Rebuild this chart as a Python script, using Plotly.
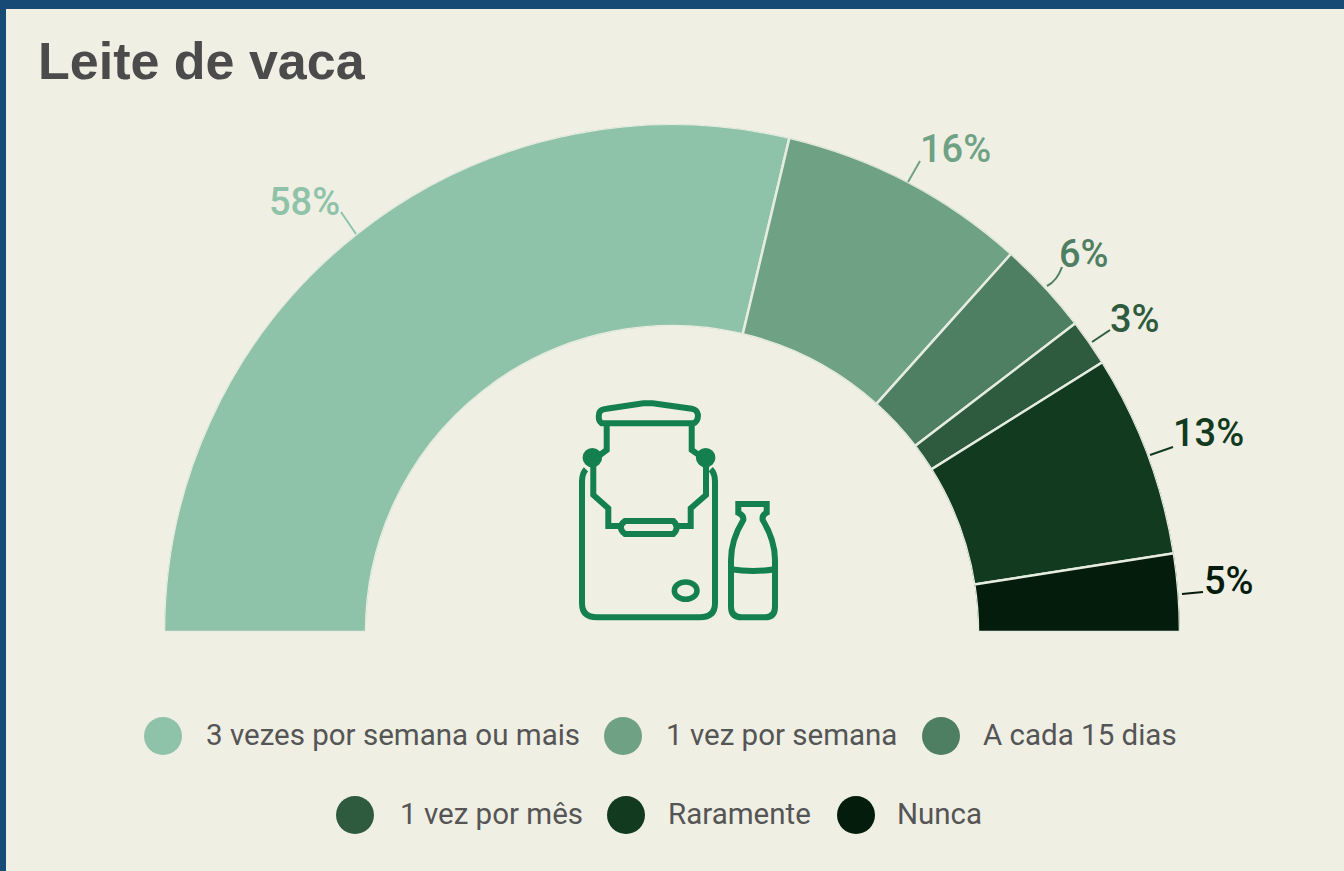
import plotly.graph_objects as go

title = "Leite de vaca"
categories = ["3 vezes por semana ou mais", "1 vez por semana", "A cada 15 dias",
              "1 vez por mês", "Raramente", "Nunca"]
values = [58, 16, 6, 3, 13, 5]
colors = ["#8fc3a9", "#6fa284", "#4f7f62", "#2e5b3e", "#113a1e", "#041c0b"]

W, H = 1344, 871
CX, BASE, R = 672, 632, 508
HOLE = 306 / 508
FONT = "Roboto"

total = sum(values)
theta, width, cum = [], [], 0
for v in values:
    theta.append((cum + v / 2) * 180 / total)
    width.append(v * 180 / total)
    cum += v

fig = go.Figure()

legend_x = [163, 623, 941, 355, 626, 856]
legend_y = [736, 736, 736, 815, 815, 815]
legend_text_x = [204, 664, 981, 398, 666, 895]
fig.add_trace(go.Scatter(
    x=legend_x, y=legend_y, mode="markers",
    marker=dict(size=38, color=colors, line=dict(width=0)),
    hoverinfo="skip", showlegend=False))

fig.add_trace(go.Barpolar(
    r=[1] * len(values), theta=theta, width=width, text=categories,
    marker=dict(color=colors, line=dict(color="#e6ece0", width=2.5)),
    hoverinfo="text", showlegend=False))

annotations = [dict(x=36, y=61, xref="x", yref="y", text=f"<b>{title}</b>", showarrow=False,
                    xanchor="left", yanchor="middle",
                    font=dict(family="Liberation Sans", size=52, color="#4b4b4b"))]

label_pos = [(304, 202), (955, 149), (1084, 254), (1135, 319), (1208, 433), (1229, 581)]
for v, c, (lx, ly) in zip(values, colors, label_pos):
    annotations.append(dict(x=lx, y=ly, xref="x", yref="y", text=f"{v}%", showarrow=False,
                            xanchor="center", yanchor="middle",
                            font=dict(family=FONT, size=38, color=c, weight=500)))
for name, tx, ty in zip(categories, legend_text_x, legend_y):
    annotations.append(dict(x=tx, y=ty - 1, xref="x", yref="y", text=name, showarrow=False,
                            xanchor="left", yanchor="middle",
                            font=dict(family=FONT, size=29.5, color="#555555")))

shapes = [dict(type="rect", xref="x", yref="y", x0=6, x1=W + 5, y0=9, y1=H + 5,
               fillcolor="#efefe4", line=dict(width=0), layer="below")]

leaders = [("M341,212 L356,234", 0), ("M920,161 L908,182", 1),
           ("M1062,267 Q1057,281 1047,286", 2), ("M1110,330 L1092,342", 3),
           ("M1173,447 L1150,455", 4), ("M1203,592 L1182,594", 5)]
for p, i in leaders:
    shapes.append(dict(type="path", xref="x", yref="y", path=p,
                       line=dict(color=colors[i], width=2), layer="above"))

ICON = "#14804f"
def ic(x, y):
    return f"{560 + x / 3:.1f},{390 + y / 3:.1f}"
def path(*parts):
    out = []
    for p in parts:
        if p == "Z":
            out.append("Z")
        else:
            cmd, *pts = p
            out.append(cmd + " ".join(ic(*q) for q in pts))
    return " ".join(out)

icon_paths = [
    path(("M", (125, 100)), ("Q", (112, 90), (118, 68)), ("Q", (122, 58), (140, 56)),
         ("L", (250, 40)), ("L", (278, 40)), ("L", (395, 56)), ("Q", (412, 60), (414, 75)),
         ("Q", (414, 95), (400, 100)), "Z"),
    path(("M", (140, 100)), ("L", (140, 180)), ("L", (100, 210)), ("L", (100, 315)),
         ("L", (145, 355)), ("L", (145, 408)), ("L", (178, 408))),
    path(("M", (395, 100)), ("L", (395, 180)), ("L", (438, 210)), ("L", (438, 315)),
         ("L", (392, 355)), ("L", (392, 408)), ("L", (355, 408))),
    path(("M", (195, 393)), ("L", (340, 393)), ("Q", (360, 412), (340, 432)),
         ("L", (195, 432)), ("Q", (170, 412), (195, 393)), "Z"),
    path(("M", (78, 238)), ("Q", (66, 250), (66, 275)), ("L", (66, 640)),
         ("Q", (66, 682), (110, 682)), ("L", (420, 682)), ("Q", (465, 682), (465, 640)),
         ("L", (465, 275)), ("Q", (465, 250), (452, 238))),
    path(("M", (535, 342)), ("L", (620, 342)), ("L", (620, 368)), ("Q", (605, 376), (608, 390)),
         ("Q", (645, 450), (645, 510)), ("L", (645, 650)), ("Q", (645, 682), (615, 682)),
         ("L", (545, 682)), ("Q", (513, 682), (513, 650)), ("L", (513, 510)),
         ("Q", (513, 450), (550, 390)), ("Q", (552, 376), (535, 368)), "Z"),
    path(("M", (513, 538)), ("Q", (578, 548), (645, 538))),
]
for p in icon_paths:
    shapes.append(dict(type="path", xref="x", yref="y", path=p,
                       line=dict(color=ICON, width=6), layer="above"))
for zx, zy, rx, ry, fill in [(97, 203, 21, 21, ICON), (437, 203, 21, 21, ICON),
                             (377, 602, 34, 26, "rgba(0,0,0,0)")]:
    shapes.append(dict(type="circle", xref="x", yref="y",
                       x0=560 + (zx - rx) / 3, x1=560 + (zx + rx) / 3,
                       y0=390 + (zy - ry) / 3, y1=390 + (zy + ry) / 3,
                       fillcolor=fill, line=dict(color=ICON, width=5.5), layer="above"))

fig.update_layout(
    width=W, height=H, margin=dict(l=0, r=0, t=0, b=0),
    paper_bgcolor="#174a74", plot_bgcolor="rgba(0,0,0,0)", showlegend=False,
    xaxis=dict(range=[0, W], visible=False, domain=[0, 1], fixedrange=True),
    yaxis=dict(range=[H, 0], visible=False, domain=[0, 1], fixedrange=True),
    polar=dict(
        domain=dict(x=[(CX - R) / W, (CX + R) / W], y=[(H - BASE) / H, (H - BASE + R) / H]),
        sector=[0, 180], hole=HOLE, bgcolor="rgba(0,0,0,0)",
        radialaxis=dict(range=[0, 1], visible=False),
        angularaxis=dict(direction="clockwise", rotation=180, visible=False, thetaunit="degrees"),
    ),
    shapes=shapes, annotations=annotations,
)

fig.write_html("out.html", config=dict(displayModeBar=False),
               post_script="document.body.style.margin='0';document.body.style.overflow='hidden';")
